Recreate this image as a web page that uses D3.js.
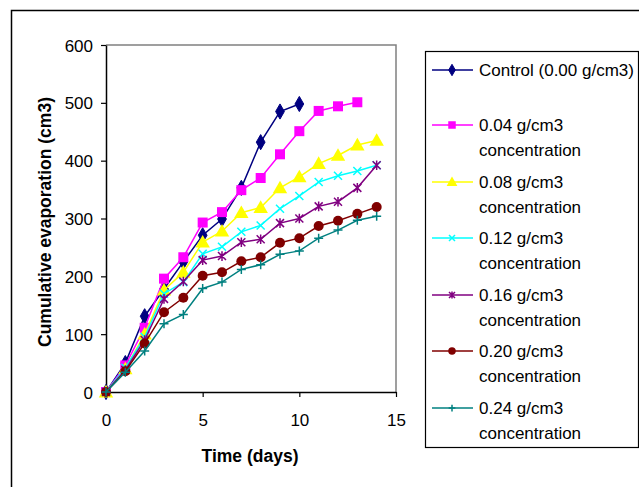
<!DOCTYPE html>
<html>
<head>
<meta charset="utf-8">
<script src="https://cdn.jsdelivr.net/npm/d3@7"></script>
<style>
body{margin:0;background:#fff;}
text{font-family:"Liberation Sans",Arial,sans-serif;}
</style>
</head>
<body>
<div id="chart"></div>
<script>
const w = 639, h = 487;

// days for each series
const days = [0,1,2,3,4,5,6,7,8,9,10,11,12,13,14];

const control = [0,50,131,178,225,271,299,353,432,485,498];
const c004 = [0,46,111,196,233,293,311,349,370,411,451,486,494,501];
const c008 = [0,40,100,176,207,259,278,310,319,353,372,395,409,427,435];
const c012 = [0,42,95,170,190,239,251,277,288,317,339,363,374,382,392];
const c016 = [0,38,90,161,191,228,235,259,264,292,300,321,329,353,392];
const c020 = [0,36,84,138,163,201,207,226,233,258,266,287,296,308,320];
const c024 = [0,34,71,118,134,179,190,212,220,238,244,266,280,297,304];

const seriesNames = ["Control (0.00 g/cm3)","0.04 g/cm3|concentration","0.08 g/cm3|concentration",
  "0.12 g/cm3|concentration","0.16 g/cm3|concentration","0.20 g/cm3|concentration","0.24 g/cm3|concentration"];
const seriesValues = [control,c004,c008,c012,c016,c020,c024];
const colors = ["#000080","#ff00ff","#ffff00","#00ffff","#800080","#800000","#008080"];
const markers = ["diamond","square","triangle","x","star","circle","plus"];

const xTicks = [0,5,10,15];
const yTicks = [0,100,200,300,400,500,600];

var svg = d3.select("#chart").append("svg")
  .attr("width",w).attr("height",h);

// outer frame
svg.append("rect").attr("x",11.5).attr("y",10.5).attr("width",640).attr("height",490)
  .attr("fill","none").attr("stroke","#000").attr("stroke-width",1.5);

var x = d3.scaleLinear().domain([0,15]).range([106,396]);
var y = d3.scaleLinear().domain([0,600]).range([392,45]);

// plot border (grey top/right)
svg.append("path")
  .attr("d","M106,45H396V392")
  .attr("fill","none").attr("stroke","#808080").attr("stroke-width",1.5);

var xAxis = svg.append("g").attr("transform","translate(0,392)")
  .call(d3.axisBottom(x).tickValues(xTicks).tickSize(5).tickPadding(17).tickSizeOuter(0));
var yAxis = svg.append("g").attr("transform","translate(106,0)")
  .call(d3.axisLeft(y).tickValues(yTicks).tickSize(5).tickPadding(8).tickSizeOuter(0));

[xAxis,yAxis].forEach(function(a){
  a.select(".domain").attr("stroke","#000").attr("stroke-width",1.5);
  a.selectAll(".tick line").attr("stroke","#000").attr("stroke-width",1.2);
  a.selectAll("text").attr("font-size",17).attr("fill","#000")
    .style("font-family","'Liberation Sans',Arial,sans-serif");
});
yAxis.selectAll("text").attr("dy","0.36em");

svg.append("text").attr("x",250).attr("y",462).attr("text-anchor","middle")
  .attr("font-size",17.5).attr("font-weight","bold").text("Time (days)");
svg.append("text").attr("transform","translate(51,222) rotate(-90)").attr("text-anchor","middle")
  .attr("font-size",17.5).attr("font-weight","bold").text("Cumulative evaporation (cm3)");

function drawMarker(g, type, color, s){
  if(type=="diamond"){
    g.append("path").attr("d",d3.symbol(d3.symbolDiamond,s*s*0.55)())
      .attr("fill",color).attr("stroke",color);
  } else if(type=="square"){
    g.append("rect").attr("x",-s/2).attr("y",-s/2).attr("width",s).attr("height",s)
      .attr("fill",color);
  } else if(type=="triangle"){
    g.append("path").attr("d","M0,"+(-s*0.6)+"L"+(s*0.6)+","+(s*0.45)+"L"+(-s*0.6)+","+(s*0.45)+"Z")
      .attr("fill",color);
  } else if(type=="circle"){
    g.append("circle").attr("r",s/2).attr("fill",color);
  } else if(type=="x"){
    var r=s*0.4;
    g.append("path").attr("d","M"+(-r)+","+(-r)+"L"+r+","+r+"M"+r+","+(-r)+"L"+(-r)+","+r)
      .attr("stroke",color).attr("stroke-width",1.5);
  } else if(type=="star"){
    var r=s*0.4;
    g.append("path").attr("d","M"+(-r)+","+(-r)+"L"+r+","+r+"M"+r+","+(-r)+"L"+(-r)+","+r+"M0,"+(-r*1.2)+"V"+(r*1.2))
      .attr("stroke",color).attr("stroke-width",1.5);
  } else if(type=="plus"){
    var r=s*0.45;
    g.append("path").attr("d","M"+(-r)+",0H"+r+"M0,"+(-r)+"V"+r)
      .attr("stroke",color).attr("stroke-width",1.5);
  }
}

var line = d3.line().x(function(d){return x(d[0]);}).y(function(d){return y(d[1]);});
var sizes = [11,10,12,10,10,10,10];

seriesValues.forEach(function(vals,i){
  var pts = vals.map(function(v,j){return [days[j],v];});
  svg.append("path").datum(pts).attr("d",line)
    .attr("fill","none").attr("stroke",colors[i]).attr("stroke-width",1.5);
  pts.forEach(function(p){
    var g = svg.append("g").attr("transform","translate("+x(p[0])+","+y(p[1])+")");
    drawMarker(g,markers[i],colors[i],sizes[i]);
  });
});

// legend
var legend = svg.append("g").attr("id","legend");
legend.append("rect").attr("x",425.5).attr("y",51.5).attr("width",213).attr("height",396)
  .attr("fill","#fff").attr("stroke","#000").attr("stroke-width",1.2);

var legendY = [70,125,182,238,295,351,408];
seriesNames.forEach(function(name,i){
  var ly = legendY[i];
  legend.append("line").attr("x1",432).attr("x2",473).attr("y1",ly).attr("y2",ly)
    .attr("stroke",colors[i]).attr("stroke-width",1.5);
  var g = legend.append("g").attr("transform","translate(452,"+ly+")");
  drawMarker(g,markers[i],colors[i],sizes[i]*0.75);
  name.split("|").forEach(function(t,k){
    legend.append("text").attr("x",479).attr("y",ly+6+k*25)
      .attr("font-size",17).attr("fill","#000").text(t);
  });
});
</script>
</body>
</html>
